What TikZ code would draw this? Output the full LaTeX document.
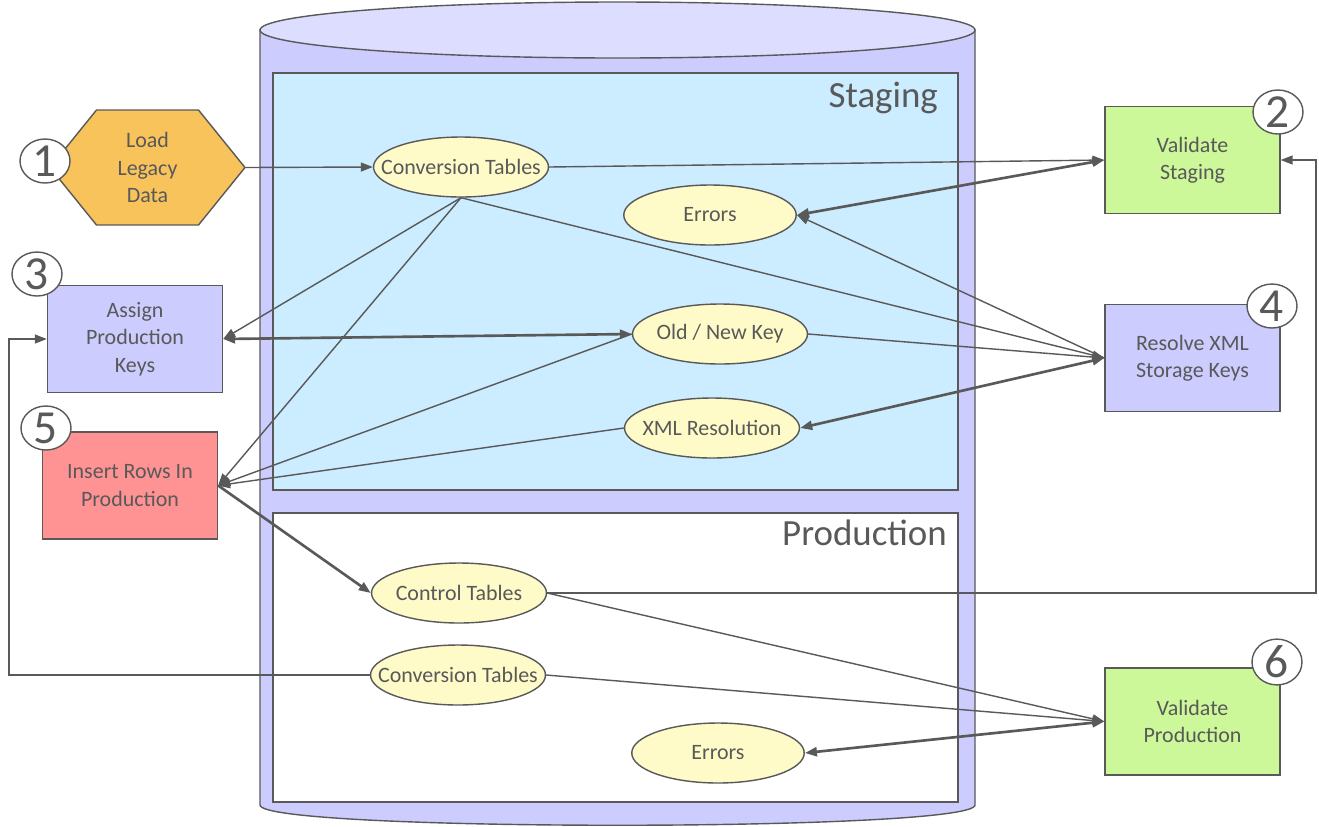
\documentclass[tikz,border=0pt]{standalone}
\usepackage{fontspec}
\setmainfont{Carlito}
\usetikzlibrary{shapes.geometric,arrows.meta}
\definecolor{linegray}{HTML}{595959}
\definecolor{cylfill}{HTML}{CCCCFF}
\definecolor{cyltop}{HTML}{DDDDFF}
\definecolor{stagefill}{HTML}{CCECFF}
\definecolor{hexorange}{HTML}{F9C35C}
\definecolor{greenfill}{HTML}{CCF89A}
\definecolor{lavfill}{HTML}{CCCCFF}
\definecolor{redfill}{HTML}{FF9393}
\definecolor{ellfill}{HTML}{FFFBC8}
\newcommand{\tbltxt}[1]{\makebox[0pt]{#1}}
\begin{document}
\begin{tikzpicture}[x=0.02cm,y=-0.02cm,
  every node/.style={text=linegray,font=\fontsize{12.5}{15.5}\selectfont},
  box/.style={draw=linegray,line width=0.8pt,minimum width=3.5cm,minimum height=2.14cm,align=center},
  tbl/.style={ellipse,draw=linegray,line width=0.8pt,fill=ellfill,minimum width=3.5cm,minimum height=1.2cm,inner sep=0pt},
  numcirc/.style={ellipse,draw=linegray,line width=0.8pt,fill=white,minimum width=1cm,minimum height=0.88cm,inner sep=0pt,font=\fontsize{27}{27}\selectfont},
  conn/.style={draw=linegray,line width=0.8pt,-{Triangle[length=2.4mm,width=1.8mm]}},
  thickconn/.style={draw=linegray,line width=1.5pt,-{Triangle[length=2.4mm,width=1.8mm]}},
  dblconn/.style={draw=linegray,line width=1.5pt,{Triangle[length=2.4mm,width=1.8mm]}-{Triangle[length=2.4mm,width=1.8mm]}},
  area/.style={font=\fontsize{21}{21}\selectfont,anchor=east}]
  \useasboundingbox (0,0) rectangle (1319,826);
  \draw[linegray,line width=0.8pt,fill=cylfill] (260,30) -- (260,805) .. controls (260,832) and (975,832) .. (975,805) -- (975,30) -- cycle;
  \draw[linegray,line width=0.8pt,fill=cyltop] (617.5,30) ellipse [x radius=357.5,y radius=28];
  \draw[linegray,line width=0.8pt,fill=stagefill] (273,73) rectangle (958,490);
  \draw[linegray,line width=0.8pt,fill=white] (273,513) rectangle (958,802);
  \node[area] at (944,98) {Staging};
  \node[area] at (953,533) {Production};

  \draw[linegray,line width=0.8pt,fill=hexorange] (50,167.5) -- (96.5,110) -- (198.5,110) -- (245,167.5) -- (198.5,225) -- (96.5,225) -- cycle;
  \node[minimum width=3.9cm,align=center] (load) at (147.5,167.5) {Load\\Legacy\\Data};

  \node[box,fill=greenfill] (vstage) at (1192.5,160) {Validate\\Staging};
  \node[box,fill=lavfill] (assign) at (135,339) {Assign\\Production\\Keys};
  \node[box,fill=lavfill] (resolve) at (1192.5,358) {Resolve XML\\Storage Keys};
  \node[box,fill=redfill] (insert) at (130,485.5) {Insert Rows In\\Production};
  \node[box,fill=greenfill] (vprod) at (1192.5,721.5) {Validate\\Production};

  \node[tbl] (cs) at (461,167) {\tbltxt{Conversion Tables}};
  \node[tbl,minimum width=3.45cm] (errS) at (710,215) {\tbltxt{Errors}};
  \node[tbl] (oldnew) at (720,334) {\tbltxt{Old / New Key}};
  \node[tbl] (xml) at (712,428) {\tbltxt{XML Resolution}};
  \node[tbl] (ctrl) at (459,593) {\tbltxt{Control Tables}};
  \node[tbl] (cp) at (458,675) {\tbltxt{Conversion Tables}};
  \node[tbl,minimum width=3.45cm] (errP) at (718,753) {\tbltxt{Errors}};

  \node[numcirc] (n1) at (45,161) {1};
  \node[numcirc] (n2) at (1278,112) {2};
  \node[numcirc] (n3) at (37,274) {3};
  \node[numcirc] (n4) at (1272,306) {4};
  \node[numcirc] (n5) at (46,428) {5};
  \node[numcirc] (n6) at (1277,662) {6};

  \coordinate (rt) at (1316,593);
  \coordinate (lt) at (9,675);

  \draw[conn] (load.east) -- (cs.west);
  \draw[conn] (cs.east) -- (vstage.west);
  \draw[dblconn] (errS.east) -- (vstage.west);
  \draw[conn] (resolve.west) -- (errS.east);
  \draw[conn] (cs.south) -- (resolve.west);
  \draw[conn] (oldnew.east) -- (resolve.west);
  \draw[dblconn] (xml.east) -- (resolve.west);
  \draw[conn] (cs.south) -- (assign.east);
  \draw[conn] (cs.south) -- (insert.east);
  \draw[dblconn] (assign.east) -- (oldnew.west);
  \draw[conn] (oldnew.west) -- (insert.east);
  \draw[conn] (xml.west) -- (insert.east);
  \draw[thickconn] (insert.east) -- (ctrl.west);
  \draw[conn] (ctrl.east) -- (rt) |- (vstage.east);
  \draw[conn] (ctrl.east) -- (vprod.west);
  \draw[conn] (cp.east) -- (vprod.west);
  \draw[dblconn] (errP.east) -- (vprod.west);
  \draw[conn] (cp.west) -- (lt) |- (assign.west);
\end{tikzpicture}
\end{document}
